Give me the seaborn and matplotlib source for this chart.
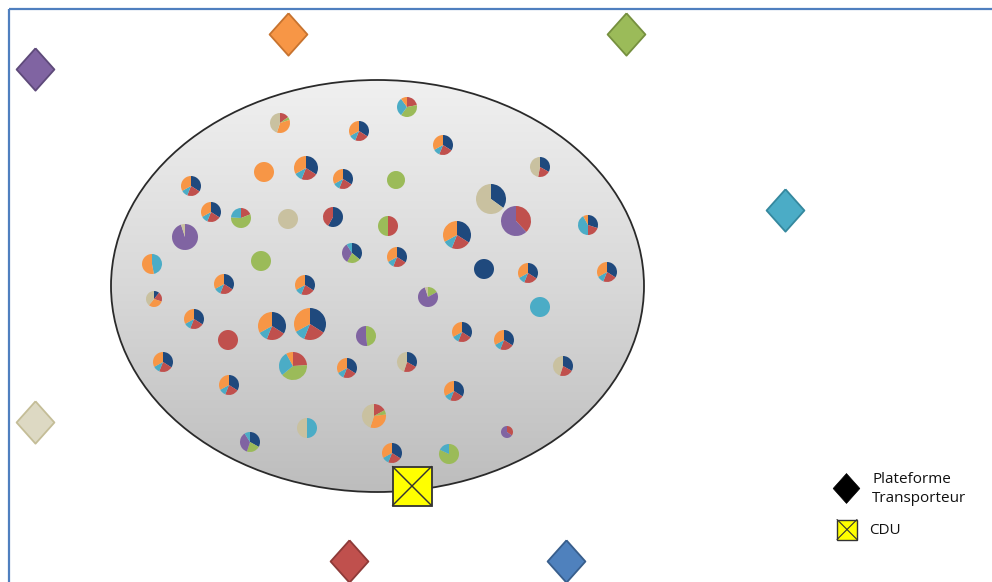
import numpy as np
import pandas as pd
import matplotlib
matplotlib.use("Agg")
import matplotlib.pyplot as plt
from matplotlib.patches import Wedge, Ellipse, Rectangle
from matplotlib.colors import LinearSegmentedColormap
import seaborn as sns

# ---------------- data ----------------
# slice categories (clockwise order from 12 o'clock) and their colours
carriers = ["Bleu", "Rouge", "Vert", "Violet", "Turquoise", "Orange", "Beige"]
carrier_colors = ["#1F497D", "#C0504D", "#9BBB59", "#8064A2", "#4BACC6", "#F79646", "#C9C1A0"]

TYP = [34, 22, 0, 0, 11, 33, 0]

pie_x = [407, 280, 359, 443, 264, 306, 343, 396, 540, 191,
         491, 211, 241, 288, 333, 388, 516, 457, 588, 185,
         352, 397, 261, 152, 484, 224, 305, 528, 607, 154,
         428, 540, 194, 272, 310, 228, 366, 462, 504, 163,
         293, 347, 407, 563, 229, 454, 374, 307, 250, 507,
         392, 449]
pie_y = [107, 123, 131, 145, 172, 168, 179, 180, 167, 186,
         199, 212, 218, 219, 217, 226, 221, 235, 225, 237,
         253, 257, 261, 264, 269, 284, 285, 273, 272, 299,
         297, 307, 319, 326, 324, 340, 336, 332, 340, 362,
         366, 368, 362, 366, 385, 391, 416, 428, 442, 432,
         453, 454]
pie_r = [10, 10, 10, 10, 10, 12, 10, 9, 10, 10,
         15, 10, 10, 10, 10, 10, 15, 14, 10, 13,
         10, 10, 10, 10, 10, 10, 10, 10, 10, 8,
         10, 10, 10, 14, 16, 10, 10, 10, 10, 10,
         14, 10, 10, 10, 10, 10, 12, 10, 10, 6,
         10, 10]
pie_shares = [
    [0, 22, 38, 0, 30, 10, 0], [0, 15, 5, 0, 0, 35, 45], TYP, TYP,
    [0, 0, 0, 0, 0, 100, 0], TYP, TYP, [0, 0, 100, 0, 0, 0, 0],
    [33, 20, 0, 0, 0, 0, 47], TYP,
    [35, 0, 0, 0, 0, 0, 65], TYP, [0, 19, 57, 0, 24, 0, 0],
    [0, 0, 0, 0, 0, 0, 100], [58, 42, 0, 0, 0, 0, 0], [0, 50, 50, 0, 0, 0, 0],
    [0, 38, 0, 62, 0, 0, 0], TYP, [30, 20, 0, 0, 42, 8, 0], [0, 0, 0, 95, 0, 0, 5],
    [36, 0, 22, 33, 9, 0, 0], TYP, [0, 0, 100, 0, 0, 0, 0], [0, 0, 0, 0, 47, 53, 0],
    [100, 0, 0, 0, 0, 0, 0], TYP, TYP, TYP, TYP, [11, 19, 0, 0, 0, 31, 39],
    [0, 0, 17, 78, 0, 0, 5], [0, 0, 0, 0, 100, 0, 0], TYP, TYP, TYP,
    [0, 100, 0, 0, 0, 0, 0], [0, 0, 48, 52, 0, 0, 0], TYP, TYP, TYP,
    [0, 24, 40, 0, 28, 8, 0], TYP, [33, 22, 0, 0, 0, 0, 45], [33, 22, 0, 0, 0, 0, 45],
    TYP, TYP, [0, 17, 6, 0, 0, 32, 45], [0, 0, 0, 0, 50, 0, 50],
    [33, 0, 22, 36, 9, 0, 0], [0, 35, 0, 65, 0, 0, 0],
    TYP, [0, 0, 82, 0, 18, 0, 0],
]

# transport platforms (diamonds)
plat_x = [35, 288, 626, 785, 35, 349, 566]
plat_y = [69, 34, 34, 210, 422, 561, 561]
plat_fill = ["#8064A2", "#F79646", "#9BBB59", "#4BACC6", "#DDD9C3", "#C0504D", "#4F81BD"]
plat_edge = ["#5E4A7A", "#C7732F", "#76903F", "#35889E", "#C4BD97", "#8E3A38", "#385E8C"]

# CDU
cdu_x, cdu_y = 412, 486

legend_labels = ["Plateforme\nTransporteur", "CDU"]

# ---------------- figure ----------------
sns.set_theme(style="white")
plt.rcParams["font.family"] = ["Open Sans", "DejaVu Sans"]

W, H = 992, 582
fig = plt.figure(figsize=(W / 100, H / 100), dpi=100)
ax = fig.add_axes([0, 0, 1, 1])
fig.patch.set_facecolor("white")
ax.set_facecolor("white")

# blue frame
ax.plot([8.5, 8.5], [582, 8.5], color="#4F7FBF", lw=1.6, zorder=1, solid_capstyle="butt")
ax.plot([8.5, 992], [9, 9], color="#4F7FBF", lw=1.6, zorder=1, solid_capstyle="butt")

# ellipse with vertical gradient
ecx, ecy, ew, eh = 377.5, 286, 533, 412
ell_clip = Ellipse((ecx, ecy), ew, eh, transform=ax.transData, facecolor="none", edgecolor="none")
ax.add_patch(ell_clip)
grad = np.linspace(0, 1, 256).reshape(-1, 1)
cmap = LinearSegmentedColormap.from_list("g", ["#f0f0f0", "#d8d8d8", "#bdbdbd"])
im = ax.imshow(grad, cmap=cmap, aspect="auto", origin="upper",
               extent=(ecx - ew / 2, ecx + ew / 2, ecy + eh / 2, ecy - eh / 2), zorder=2)
im.set_clip_path(ell_clip)
ax.add_patch(Ellipse((ecx, ecy), ew, eh, facecolor="none", edgecolor="#2a2a2a", lw=1.3, zorder=3))

# pies
for x, y, r, shares in zip(pie_x, pie_y, pie_r, pie_shares):
    total = float(sum(shares))
    start = -90.0
    for share, col in zip(shares, carrier_colors):
        if share <= 0:
            continue
        ang = 360.0 * share / total
        ax.add_patch(Wedge((x, y), r, start, start + ang, facecolor=col, edgecolor="none", zorder=4))
        start += ang

# diamonds via seaborn
diamond = [(0, 1.12), (1, 0), (0, -1.12), (-1, 0), (0, 1.12)]
for x, y, fc, ec in zip(plat_x, plat_y, plat_fill, plat_edge):
    sns.scatterplot(x=[x], y=[y], marker=diamond, s=30.5 ** 2, color=fc,
                    edgecolor=ec, linewidth=1.3, ax=ax, legend=False, zorder=5)

# CDU box
def cdu_box(cx, cy, half, lw):
    ax.add_patch(Rectangle((cx - half, cy - half), 2 * half, 2 * half,
                           facecolor="#FFFF00", edgecolor="#333333", lw=lw, zorder=6))
    ax.plot([cx - half, cx + half], [cy - half, cy + half], color="#333333", lw=lw * 0.8, zorder=7)
    ax.plot([cx - half, cx + half], [cy + half, cy - half], color="#333333", lw=lw * 0.8, zorder=7)

cdu_box(cdu_x, cdu_y, 19.5, 1.3)

# legend
sns.scatterplot(x=[846], y=[488], marker=diamond, s=21.5 ** 2, color="black",
                edgecolor="black", linewidth=0.5, ax=ax, legend=False, zorder=5)
ax.text(872, 489, legend_labels[0], fontsize=11, va="center", ha="left",
        color="#111111", linespacing=1.35)
cdu_box(847, 529.5, 10, 1.0)
ax.text(869, 531, legend_labels[1], fontsize=11, va="center", ha="left", color="#111111")

ax.set_xlim(0, W)
ax.set_ylim(H, 0)
ax.set_aspect("auto")
ax.axis("off")

fig.savefig("out.png", dpi=100, facecolor="white")
